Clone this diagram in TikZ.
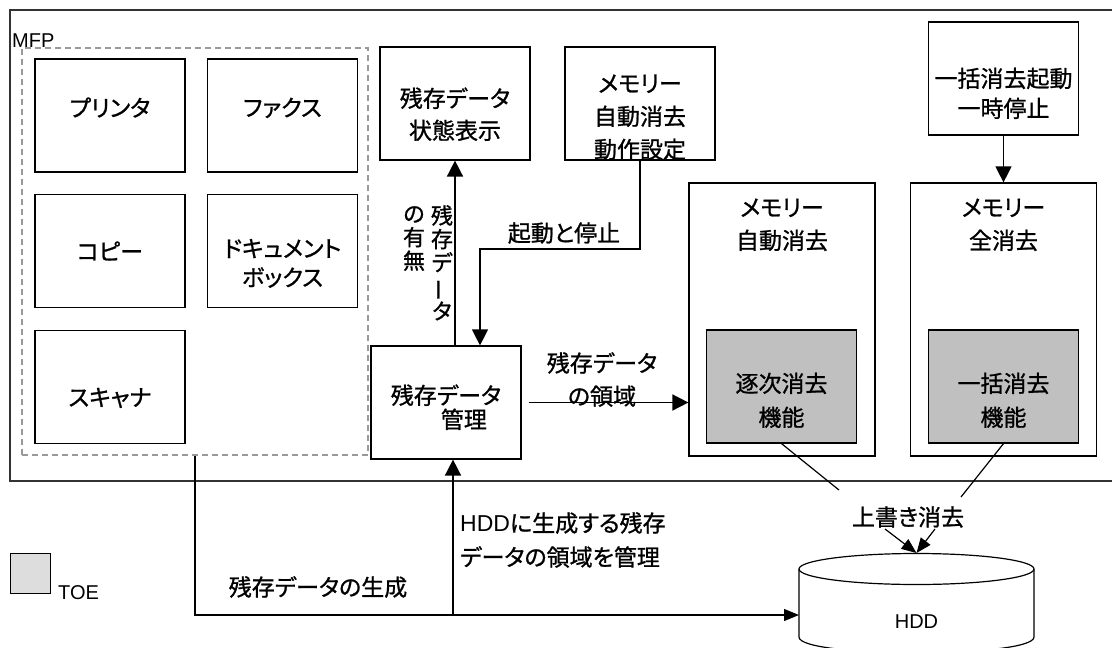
\documentclass[tikz,border=0pt]{standalone}
\usepackage{fontspec}
\usepackage{graphicx}
\setmainfont{Noto Sans CJK JP}[RawFeature={+palt;embolden=1}]
\newfontfamily\lat{Liberation Sans}
\usetikzlibrary{arrows.meta}

\definecolor{toegray}{HTML}{C0C0C0}
\definecolor{legendgray}{HTML}{DDDDDD}
\definecolor{mfpgray}{HTML}{999999}

% push the text of a box down or up
\newcommand{\padtop}[1]{\rule{0pt}{#1}}
\newcommand{\padbot}[1]{\rule[-#1]{0pt}{#1}}

\begin{document}
\begin{tikzpicture}[
    x=1pt, y=-1pt,
    font=\fontsize{23}{34}\selectfont,
    func/.style={rectangle, draw, line width=1.2pt, minimum width=150pt, minimum height=113pt, align=center, inner sep=0pt},
    toefunc/.style={func, fill=toegray},
    erasebox/.style={rectangle, draw, line width=1.2pt, minimum width=186pt, minimum height=273pt, inner sep=0pt},
    flow/.style={line width=1.6pt, -{Triangle[length=16pt, width=16pt]}},
    thinflow/.style={line width=1.2pt, -{Triangle[length=15pt, width=12pt]}},
    plain/.style={line width=1.2pt},
    latin/.style={font=\lat\fontsize{20}{24}\selectfont}
]
\useasboundingbox (0,0) rectangle (1112,648);

% MFP frame
\draw[line width=2pt, black!80] (1116,10) -- (10,10) -- (10,481) -- (1116,481);
\node[latin, anchor=base west, inner sep=0pt] (mfp) at (12,47) {MFP};
\node[rectangle, draw=mfpgray, line width=1.2pt, dash pattern=on 6pt off 4pt, minimum width=346pt, minimum height=407pt] (mfpfun) at (195,251.5) {};

% MFP functions
\node[func] (printer) at (110,115.5) {\padbot{17pt}プリンタ};
\node[func] (fax) at (282.5,115.5) {\padbot{17pt}ファクス};
\node[func] (copy) at (110,251) {コピー};
\node[func] (docbox) at (282.5,251) {\padtop{43pt}ドキュメント\\[-5pt]ボックス};
\node[func] (scanner) at (110,387) {\padtop{40pt}スキャナ};

% residual data management
\node[func] (status) at (455,103.5) {\padtop{41pt}残存データ\\[-2pt]状態表示};
\node[func] (autoset) at (640,103.5) {\padtop{45pt}メモリー\\[-1pt]自動消去\\[-1pt]動作設定};
\node[func, align=left] (manage) at (446,402.5) {\padtop{29pt}残存データ\\[-10pt]\hspace*{50pt}管理};

% erase functions
\node[func] (bulkctl) at (1003.5,78.5) {\padtop{49pt}一括消去起動\\[-4pt]一時停止};
\node[erasebox, label={[anchor=north, yshift=-16pt, inner sep=0pt, align=center]north:メモリー\\[-1pt]自動消去}] (autoerase) at (782,319.5) {};
\node[erasebox, label={[anchor=north, yshift=-16pt, inner sep=0pt, align=center]north:メモリー\\[-1pt]全消去}] (allerase) at (1003.5,319.5) {};
\node[toefunc] (seqerase) at (781.5,386.5) {\padtop{47pt}逐次消去\\機能};
\node[toefunc] (bulkerase) at (1003.5,386.5) {\padtop{47pt}一括消去\\機能};

% HDD
\draw[plain] (916.5,569) ellipse [x radius=117.5, y radius=15.5];
\draw[plain] (799,569) -- (799,637) .. controls (799,658) and (1034,658) .. (1034,637) -- (1034,569);
\node[latin] (hdd) at (916.5,622) {HDD};
\coordinate (hddtop) at (916.5,553);
\coordinate (hddleft) at (799,615);

% connectors
\draw[flow] (status.south |- manage.north) -- (status.south);
\node[anchor=north, inner sep=0pt, align=center, font=\fontsize{22}{23.5}\selectfont] (haslblr) at (442,205) {残\\存\\デ\\\rotatebox[origin=c]{90}{ー}\\タ};
\node[anchor=north, inner sep=0pt, align=center, font=\fontsize{22}{23.5}\selectfont] (haslbll) at (414,206) {の\\有\\無};

\coordinate (ctlbend) at (480,249);
\draw[flow, line width=1.3pt] (autoset.south) |- (ctlbend) -- (ctlbend |- manage.north);
\node (ctllbl) at (564,233) {起動と停止};

\draw[flow, shorten <=7pt] (manage.east) -- (manage.east -| autoerase.west);
\node[align=center] (arealbl) at (602,379.5) {残存データ\\[-1pt]の領域};

\draw[flow, line width=1.3pt] (bulkctl.south) -- (bulkctl.south |- allerase.north);

\draw[thinflow] (mfpfun.south) |- (hddleft);
\node (genlbl) at (318,587) {残存データの生成};
\coordinate (split) at (453,615);
\draw[flow] (split) -- (split |- manage.south);
\node[anchor=north west, align=left, inner sep=0pt] (hddlbl) at (460,512) {{\lat HDD}に生成する残存\\データの領域を管理};

% overwrite erase
\coordinate (ow1) at (839,490);
\coordinate (ow2) at (961,497);
\coordinate (ow3) at (885,529);
\coordinate (ow4) at (935,529);
\draw[plain] (seqerase.south) -- (ow1);
\draw[plain] (bulkerase.south) -- (ow2);
\node (owlbl) at (908,517) {上書き消去};
\draw[thinflow] (ow3) -- (hddtop);
\draw[thinflow] (ow4) -- (hddtop);

% legend
\node[rectangle, draw, line width=1pt, fill=legendgray, minimum size=40pt, inner sep=0pt] (legend) at (30,573) {};
\node[latin, anchor=base west, inner sep=0pt] (toelbl) at (58,599) {TOE};

\end{tikzpicture}
\end{document}
